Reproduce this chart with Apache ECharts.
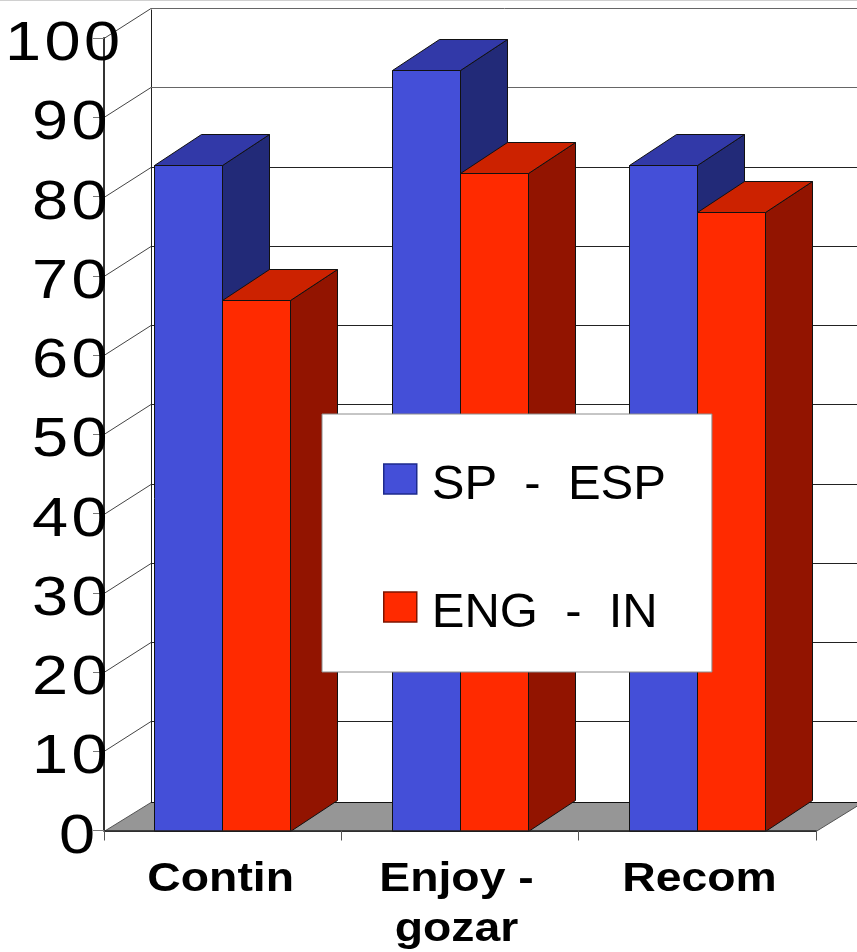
<!DOCTYPE html>
<html><head><meta charset="utf-8">
<style>html,body{margin:0;padding:0;background:#fff}#c{width:857px;height:952px}</style>
<script src="https://cdn.jsdelivr.net/npm/echarts@6/dist/echarts.min.js"></script>
</head><body><div id="c"></div>
<script>
const categories = ['Contin', 'Enjoy -\ngozar', 'Recom'];
const spValues = [84, 96, 84];
const engValues = [67, 83, 78];
const yTicks = [0, 10, 20, 30, 40, 50, 60, 70, 80, 90, 100];
const seriesNames = ['SP  -  ESP', 'ENG  -  IN'];

const DX = 47, DY = 30, BAR = 68;
const FONT = '"Liberation Sans", Arial, sans-serif';

function poly(points, fill, stroke) {
  return { type: 'polygon', shape: { points }, style: { fill, stroke: stroke || '#111', lineWidth: 1 } };
}
function line(x1, y1, x2, y2, stroke, w) {
  return { type: 'line', shape: { x1, y1, x2, y2 }, style: { stroke, lineWidth: w || 1, fill: null } };
}
function bar(side, front, top, dark) {
  return function (params, api) {
    const c = api.coord([api.value(0), api.value(1)]);
    const base = api.coord([api.value(0), 0]);
    const split = Math.floor(c[0]) + 0.5;
    const x0 = side < 0 ? split - BAR : split, x1 = x0 + BAR;
    const y = Math.round(c[1]) + 0.5, b = Math.round(base[1]) + 0.5;
    return { type: 'group', children: [
      poly([[x1, y], [x1 + DX, y - DY - 1], [x1 + DX, b - DY - 1], [x1, b]], dark),
      poly([[x0, y], [x0 + DX, y - DY - 1], [x1 + DX, y - DY - 1], [x1, y]], top),
      poly([[x0, y], [x1, y], [x1, b], [x0, b]], front)
    ] };
  };
}

const option = {
  animation: false,
  backgroundColor: '#fff',
  graphic: [{ type: 'rect', shape: { x: 0, y: 0, width: 857, height: 1 }, style: { fill: '#d0d0d0' } }],
  grid: { left: 104, right: 41, top: 38, bottom: 121.5, containLabel: false },
  xAxis: {
    type: 'category', data: categories, z: 5,
    axisLine: { lineStyle: { color: '#222', width: 1.5 } },
    axisTick: { show: true, length: 10, alignWithLabel: false, lineStyle: { color: '#555', width: 1 } },
    axisLabel: { show: false }, splitLine: { show: false }
  },
  yAxis: {
    type: 'value', min: 0, max: 100, interval: 10, z: 5,
    axisLine: { show: true, lineStyle: { color: '#333', width: 2 } },
    axisTick: { show: true, length: 11, lineStyle: { color: '#777', width: 1 } },
    axisLabel: { show: false }, splitLine: { show: false }
  },
  legend: {
    left: 322, top: 414, orient: 'vertical', align: 'left',
    padding: [47, 46, 34, 61], itemGap: 79, itemWidth: 33, itemHeight: 30,
    backgroundColor: '#fff', borderColor: '#8c8c8c', borderWidth: 1,
    formatter: name => '{a|' + name + '}',
    textStyle: {
      fontFamily: FONT, fontSize: 49, color: '#000', padding: [0, 0, 0, 10],
      rich: { a: { fontFamily: FONT, fontSize: 49, color: '#000', lineHeight: 62, verticalAlign: 'bottom' } }
    },
    itemStyle: { borderWidth: 1.5 },
    data: [
      { name: seriesNames[0], icon: 'rect', itemStyle: { color: '#444fd8', borderColor: '#1d2a8c' } },
      { name: seriesNames[1], icon: 'rect', itemStyle: { color: '#ff2a00', borderColor: '#7d1400' } }
    ]
  },
  series: [
    { // back wall, side wall and floor
      type: 'custom', silent: true, z: 1, legendHoverLink: false,
      data: yTicks.map(v => [0, v]),
      renderItem(params, api) {
        const cs = params.coordSys;
        const y = Math.round(api.coord([0, api.value(1)])[1]) + 0.5;
        const lx = cs.x, rx = cs.x + cs.width;
        const kids = [];
        if (api.value(1) === 0) {
          kids.push(poly([[lx, y], [lx + DX, y - DY + 1], [rx + DX, y - DY + 1], [rx, y]], '#969696', '#555'));
          kids.push(line(lx + DX, y - DY + 1, rx + DX, y - DY + 1, '#111', 1));
          kids.push(line(lx + DX + 0.5, y - DY + 1, lx + DX + 0.5, y - DY - 792, '#222', 1));
        } else {
          kids.push(line(lx, y, lx + DX, y - DY, '#444', 1));
          kids.push(line(lx + DX, y - DY, rx + DX, y - DY, api.value(1) >= 90 ? '#666' : '#222', 1));
        }
        return { type: 'group', children: kids };
      }
    },
    { // value tick labels: wide, spaced digits as in the reference
      type: 'custom', silent: true, z: 6, legendHoverLink: false,
      data: yTicks.map(v => [0, v]),
      renderItem(params, api) {
        const txt = String(api.value(1));
        const p = api.coord([0, api.value(1)]);
        const unitX = params.coordSys.x - 27 + (txt.length - 1) * 12.5;
        const kids = txt.split('').map((d, k) => ({
          type: 'text', x: unitX - (txt.length - 1 - k) * 39.5, y: p[1] + 7, scaleX: 1.18,
          style: { text: d, fill: '#000', font: '55px ' + FONT, textAlign: 'center', textVerticalAlign: 'middle' }
        }));
        return { type: 'group', children: kids };
      }
    },
    { // category labels
      type: 'custom', silent: true, z: 6, legendHoverLink: false,
      data: categories.map((c, i) => [i, 0]),
      renderItem(params, api) {
        const i = api.value(0), p = api.coord([i, 0]);
        const nudge = [-2, -3.5, 2.2][i];
        return { type: 'text', x: p[0] + nudge, y: p[1] + 24, scaleX: 1.13,
          style: { text: categories[i], fill: '#000', font: 'bold 41px ' + FONT, lineHeight: 50, textAlign: 'center', textVerticalAlign: 'top' } };
      }
    },
    { name: seriesNames[0], type: 'custom', z: 2, itemStyle: { color: '#444fd8' },
      data: spValues.map((v, i) => [i, v]), renderItem: bar(-1, '#444fd8', '#3239a8', '#222a78') },
    { name: seriesNames[1], type: 'custom', z: 3, itemStyle: { color: '#ff2a00' },
      data: engValues.map((v, i) => [i, v]), renderItem: bar(1, '#ff2a00', '#cc2200', '#921400') }
  ]
};
echarts.init(document.getElementById('c'), null, { renderer: 'canvas' }).setOption(option);
</script></body></html>
